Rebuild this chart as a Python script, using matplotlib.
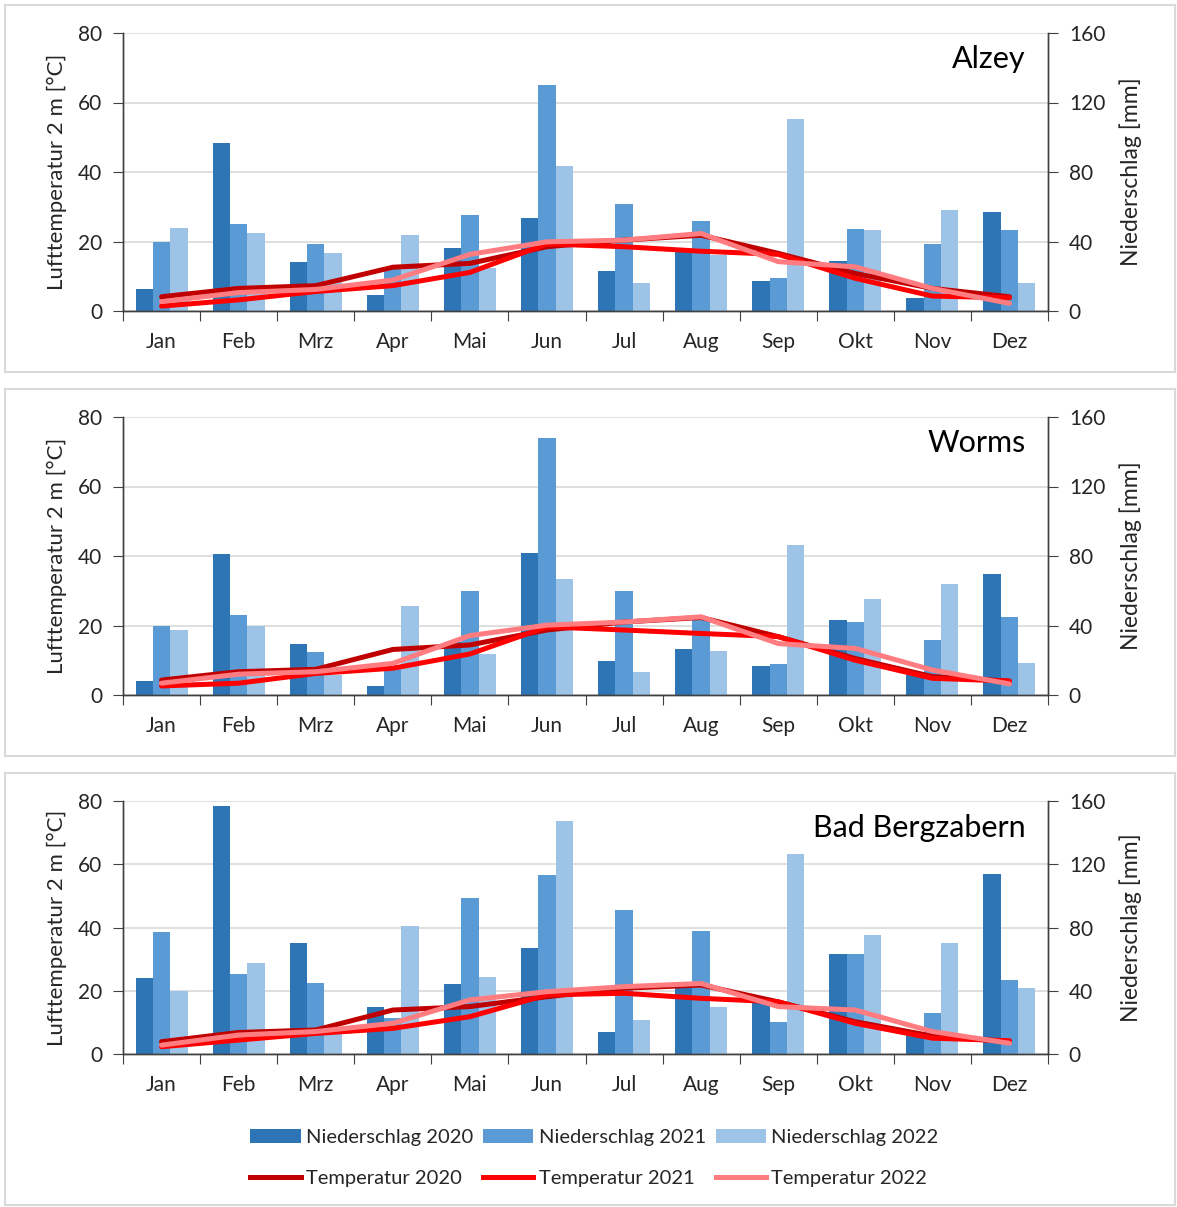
import numpy as np
import matplotlib.pyplot as plt
from matplotlib.patches import Rectangle, Patch
from matplotlib.lines import Line2D

plt.rcParams['font.family'] = ['Lato', 'DejaVu Sans']

# Monate
months = ['Jan', 'Feb', 'Mrz', 'Apr', 'Mai', 'Jun', 'Jul', 'Aug', 'Sep', 'Okt', 'Nov', 'Dez']
stations = ['Alzey', 'Worms', 'Bad Bergzabern']

# Niederschlag [mm]
alzey_n2020 = [12.5, 96.5, 28, 9, 36.5, 53.5, 23, 35, 17, 28.5, 7.5, 57]
alzey_n2021 = [39.5, 50, 38.5, 25, 55, 130, 61.5, 52, 19, 47, 38.5, 46.5]
alzey_n2022 = [48, 45, 33.5, 43.5, 24.5, 83.5, 16, 32, 110.5, 46.5, 58, 16]

worms_n2020 = [8, 81, 29.5, 5, 30.5, 81.5, 19.5, 26.5, 16.5, 43, 11.5, 69.5]
worms_n2021 = [39.5, 46, 24.5, 17.5, 60, 148, 60, 43, 18, 42, 31.5, 45]
worms_n2022 = [37.5, 39.5, 11.5, 51.5, 23.5, 66.5, 13.5, 25.5, 86.5, 55, 64, 18.5]

bb_n2020 = [48, 157, 70, 29.5, 44.5, 67, 14, 42, 34, 63, 12, 114]
bb_n2021 = [77, 50.5, 45, 23, 98.5, 113, 91, 78, 20, 63, 26, 46.5]
bb_n2022 = [40, 57.5, 14, 81, 49, 147.5, 21.5, 30, 126.5, 75, 70, 42]

# Lufttemperatur [°C]
alzey_t2020 = [4.1, 6.5, 7.3, 12.6, 13.7, 18.5, 20.4, 21.8, 16.6, 10.8, 6.5, 4.1]
alzey_t2021 = [1.4, 3.2, 5.6, 7.3, 11.1, 19.3, 18.5, 17.2, 16.3, 9.4, 4.3, 3.8]
alzey_t2022 = [2.7, 5.3, 6.2, 8.9, 16.3, 19.9, 20.4, 22.3, 14.2, 12.7, 6.5, 2.2]

worms_t2020 = [4.3, 6.7, 7.4, 13.1, 14.4, 18.7, 21.0, 22.3, 16.8, 10.5, 5.3, 4.0]
worms_t2021 = [2.6, 3.4, 6.2, 7.7, 11.8, 19.6, 18.7, 17.7, 16.8, 10.0, 4.8, 4.0]
worms_t2022 = [3.4, 6.0, 6.7, 9.1, 17.1, 20.1, 21.0, 22.5, 14.8, 13.4, 7.2, 3.2]

bb_t2020 = [3.9, 6.8, 7.6, 13.9, 15.0, 18.1, 20.8, 21.8, 16.5, 10.2, 5.7, 3.9]
bb_t2021 = [2.3, 4.4, 6.5, 8.1, 11.8, 18.7, 19.2, 17.6, 16.5, 9.7, 5.0, 4.2]
bb_t2022 = [2.8, 6.0, 7.1, 9.7, 17.1, 19.7, 21.3, 22.3, 15.0, 13.9, 7.1, 3.4]

niederschlag = [
    [alzey_n2020, alzey_n2021, alzey_n2022],
    [worms_n2020, worms_n2021, worms_n2022],
    [bb_n2020, bb_n2021, bb_n2022],
]
temperatur = [
    [alzey_t2020, alzey_t2021, alzey_t2022],
    [worms_t2020, worms_t2021, worms_t2022],
    [bb_t2020, bb_t2021, bb_t2022],
]

years = ['2020', '2021', '2022']
bar_colors = ['#2E75B6', '#5B9BD5', '#9DC3E6']
line_colors = ['#C00000', '#FF0000', '#FF7C80']
txt_col = '#262626'
spine_col = '#404040'

W, H = 1177, 1207
fig = plt.figure(figsize=(W / 100, H / 100), dpi=100)

# Rahmen der Einzelgrafiken (Pixel: top, bottom)
frames = [(5, 372), (389, 756), (773, 1205)]
for top, bottom in frames:
    fig.add_artist(Rectangle((5 / W, 1 - bottom / H), 1170 / W, (bottom - top) / H,
                             transform=fig.transFigure, fill=False,
                             edgecolor='#d9d9d9', linewidth=1.5))

# Achsenpositionen (Pixel: top, bottom)
axes_px = [(33, 311), (417, 695), (801, 1054)]
label_y = [0.905, 0.905, 0.895]
x = np.arange(len(months))
bw = 0.225

for i, (top, bottom) in enumerate(axes_px):
    rect = [123 / W, 1 - bottom / H, 925 / W, (bottom - top) / H]
    ax = fig.add_axes(rect)
    ax2 = ax.twinx()

    # Niederschlag als Balken (rechte Achse)
    for k in range(3):
        ax2.bar(x + (k - 1) * bw, niederschlag[i][k], width=bw, color=bar_colors[k], zorder=2)
    ax2.set_ylim(0, 160)
    ax2.set_yticks([0, 40, 80, 120, 160])
    ax2.yaxis.grid(True, color='#d9d9d9', linewidth=1.2)
    ax2.set_axisbelow(True)

    # Temperatur als Linien (linke Achse), oben drauf
    for k in range(3):
        ax.plot(x, temperatur[i][k], color=line_colors[k], linewidth=3.6,
                solid_capstyle='round', solid_joinstyle='round')
    ax.set_ylim(0, 80)
    ax.set_yticks([0, 20, 40, 60, 80])
    ax.set_zorder(ax2.get_zorder() + 1)
    ax.patch.set_visible(False)

    ax.set_xlim(-0.5, 11.5)
    ax.set_xticks(np.arange(-0.5, 12, 1))
    ax.set_xticklabels([])
    ax.set_xticks(x, minor=True)
    ax.set_xticklabels(months, minor=True)
    ax.tick_params(axis='x', which='major', length=7, direction='out', color=spine_col)
    ax.tick_params(axis='x', which='minor', length=0, pad=15, labelsize=15, labelcolor=txt_col)
    ax.tick_params(axis='y', length=7, color=spine_col, labelsize=15, labelcolor=txt_col, pad=8)
    ax2.tick_params(axis='y', length=7, color=spine_col, labelsize=15, labelcolor=txt_col, pad=8)

    for a in (ax, ax2):
        a.spines['top'].set_visible(False)
        for s in ('left', 'right', 'bottom'):
            a.spines[s].set_color(spine_col)
            a.spines[s].set_linewidth(1.0)

    ax.set_ylabel('Lufttemperatur 2 m [°C]', fontsize=16, color=txt_col, labelpad=8)
    ax2.set_ylabel('Niederschlag [mm]', fontsize=16.5, color=txt_col, labelpad=10)

    ax.text(0.976, label_y[i], stations[i], transform=ax.transAxes, ha='right', va='center',
            fontsize=22, color='#000000')

# Legende
handles = []
for k in range(3):
    handles.append(Patch(facecolor=bar_colors[k], label='Niederschlag ' + years[k]))
    handles.append(Line2D([0], [0], color=line_colors[k], linewidth=3.6,
                          label='Temperatur ' + years[k]))
fig.legend(handles=handles, ncol=3, loc='center', bbox_to_anchor=(0.505, 1 - 1158 / H),
           frameon=False, fontsize=14.5, handlelength=2.5, handletextpad=0.25,
           columnspacing=0.5, labelspacing=1.2, labelcolor=txt_col)

fig.savefig('out.png', dpi=100)
